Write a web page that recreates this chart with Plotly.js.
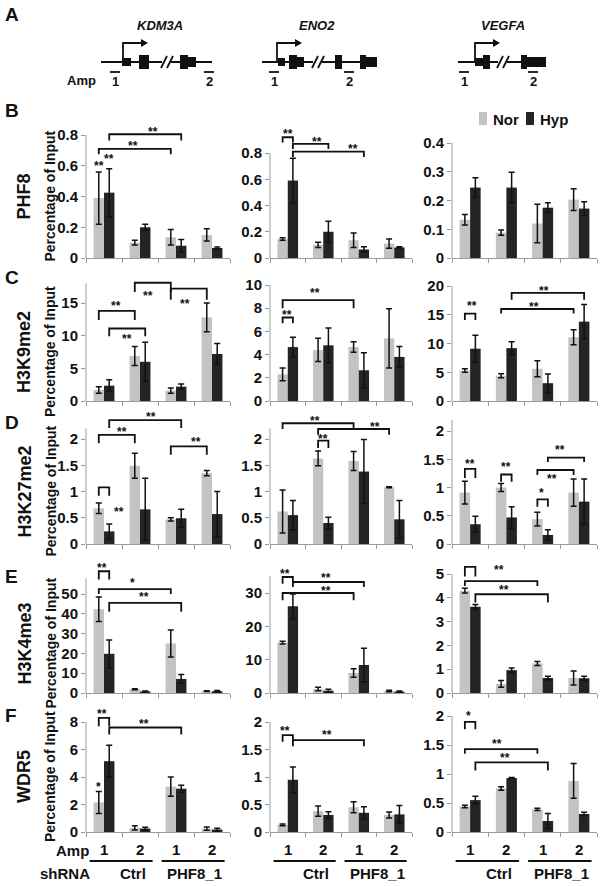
<!DOCTYPE html>
<html>
<head>
<meta charset="utf-8">
<script src="https://cdn.plot.ly/plotly-3.0.1.min.js"></script>
<style>
  body { margin: 0; background: #fff; }
  #chart { width: 604px; height: 886px; }
</style>
</head>
<body>
<div id="chart"></div>
<script>
// ---- data ----
const genes = ['KDM3A', 'ENO2', 'VEGFA'];
const marks = ['PHF8', 'H3K9me2', 'H3K27me2', 'H3K4me3', 'WDR5'];
const panels = ['B', 'C', 'D', 'E', 'F'];
const series = ['Nor', 'Hyp'];
const ampLabels = ['1', '2', '1', '2'];
const shrnaLabels = ['Ctrl', 'PHF8_1'];

// one array per mark: [KDM3A, ENO2, VEGFA] x 4 groups (Ctrl amp1, Ctrl amp2, PHF8_1 amp1, PHF8_1 amp2)
const phf8Nor = [[0.39, 0.10, 0.135, 0.15], [0.145, 0.10, 0.135, 0.11], [0.133, 0.088, 0.12, 0.203]];
const phf8NorErr = [[0.17, 0.015, 0.05, 0.04], [0.01, 0.02, 0.055, 0.035], [0.018, 0.009, 0.067, 0.038]];
const phf8Hyp = [[0.425, 0.20, 0.08, 0.065], [0.59, 0.20, 0.065, 0.08], [0.245, 0.245, 0.175, 0.172]];
const phf8HypErr = [[0.155, 0.02, 0.04, 0.006], [0.17, 0.08, 0.02, 0.006], [0.034, 0.053, 0.017, 0.024]];

const k9Nor = [[1.7, 6.9, 1.6, 12.8], [2.3, 4.4, 4.65, 5.4], [5.3, 4.4, 5.6, 11.1]];
const k9NorErr = [[0.5, 1.45, 0.4, 2.2], [0.55, 1.0, 0.45, 2.55], [0.3, 0.35, 1.4, 1.3]];
const k9Hyp = [[2.35, 6.0, 2.2, 7.2], [4.65, 4.8, 2.65, 3.8], [9.1, 9.2, 3.1, 13.8]];
const k9HypErr = [[0.9, 3.0, 0.4, 1.6], [0.85, 1.5, 1.5, 0.9], [2.35, 1.1, 1.6, 3.0]];

const k27Nor = [[0.68, 1.49, 0.47, 1.35], [0.62, 1.63, 1.58, 1.08], [0.91, 1.0, 0.44, 0.91]];
const k27NorErr = [[0.1, 0.24, 0.03, 0.05], [0.41, 0.14, 0.18, 0.01], [0.2, 0.07, 0.12, 0.24]];
const k27Hyp = [[0.24, 0.66, 0.49, 0.57], [0.55, 0.40, 1.38, 0.47], [0.35, 0.47, 0.16, 0.75]];
const k27HypErr = [[0.14, 0.59, 0.17, 0.43], [0.28, 0.11, 0.61, 0.36], [0.14, 0.19, 0.09, 0.4]];

const k4Nor = [[42.3, 1.9, 25, 0.9], [15.1, 1.2, 6.0, 0.6], [4.3, 0.38, 1.24, 0.63]];
const k4NorErr = [[6.2, 0.3, 6.8, 0.2], [0.4, 0.5, 1.3, 0.2], [0.1, 0.14, 0.08, 0.29]];
const k4Hyp = [[19.8, 0.8, 7.1, 0.9], [26, 0.7, 8.4, 0.4], [3.62, 0.96, 0.63, 0.62]];
const k4HypErr = [[7, 0.2, 2.2, 0.3], [3.7, 0.4, 5.0, 0.2], [0.1, 0.09, 0.07, 0.08]];

const wdr5Nor = [[2.15, 0.3, 3.3, 0.25], [0.13, 0.38, 0.45, 0.31], [0.44, 0.75, 0.39, 0.88]];
const wdr5NorErr = [[0.8, 0.15, 0.7, 0.12], [0.015, 0.095, 0.1, 0.055], [0.02, 0.03, 0.02, 0.3]];
const wdr5Hyp = [[5.15, 0.25, 3.15, 0.18], [0.95, 0.31, 0.35, 0.32], [0.55, 0.93, 0.19, 0.31]];
const wdr5HypErr = [[1.15, 0.1, 0.25, 0.1], [0.23, 0.06, 0.11, 0.16], [0.065, 0.01, 0.13, 0.03]];

// y tick values per row / gene
const yTicksB = [[0, 0.2, 0.4, 0.6, 0.8], [0, 0.2, 0.4, 0.6, 0.8], [0, 0.1, 0.2, 0.3, 0.4]];
const yTicksC = [[0, 5, 10, 15], [0, 2, 4, 6, 8, 10], [0, 5, 10, 15, 20]];
const yTicksD = [[0, 0.5, 1, 1.5, 2], [0, 0.5, 1, 1.5, 2], [0, 0.5, 1, 1.5, 2]];
const yTicksE = [[0, 10, 20, 30, 40, 50], [0, 10, 20, 30], [0, 1, 2, 3, 4, 5]];
const yTicksF = [[0, 2, 4, 6, 8], [0, 0.5, 1, 1.5, 2], [0, 0.5, 1, 1.5, 2]];
// where the y axis line stops
const yLineTop = [[0.8, 0.8, 0.4], [18, 10, 20], [2.2, 2.2, 2.2], [58, 35, 5], [8, 2, 2]];

// significance brackets: [from bar, to bar, level, tick end]  (n = Nor, h = Hyp, digit = group)
const bracketsB = [[['n0', 'n2', 0.71, 0.675], ['h0', 'h2', 0.805, 0.765]],
  [['n0', 'h0', 0.92, 0.88], ['h0', 'h1', 0.87, 0.83], ['h0', 'h2', 0.81, 0.77]], []];
const bracketsC = [[['n0', 'n1', 13.8, 12.4], ['h0', 'h1', 11.1, 9.9], ['n1', 'n2', 18.1, 16.7], ['n2', 'n3', 17.2, 15.5]],
  [['n0', 'n2', 8.7, 8.0], ['n0', 'h0', 7.2, 6.7]],
  [['n0', 'h0', 15.2, 14.1], ['n1', 'n3', 16.0, 15.2], ['h1', 'h3', 18.8, 17.6]]];
const bracketsD = [[['n0', 'n1', 2.08, 1.92], ['h0', 'h2', 2.36, 2.21], ['n2', 'n3', 1.86, 1.70], ['n0', 'h0', 1.08, 0.92]],
  [['n0', 'n2', 2.3, 2.19], ['n1', 'n3', 2.19, 2.08], ['n1', 'h1', 1.97, 1.83]],
  [['n0', 'h0', 1.33, 1.17], ['n1', 'h1', 1.23, 1.1], ['n2', 'h2', 0.79, 0.66], ['n2', 'n3', 1.31, 1.22], ['h2', 'h3', 1.53, 1.45]]];
const bracketsE = [[['n0', 'h0', 61.5, 57.3], ['n0', 'n2', 52.5, 50.0], ['h0', 'h2', 45.5, 41]],
  [['n0', 'h0', 34.8, 32.8], ['h0', 'h2', 33.3, 31.8], ['n0', 'n2', 30, 27.8]],
  [['n0', 'h0', 5.3, 4.9], ['n0', 'n2', 4.7, 4.5], ['h0', 'h2', 4.15, 3.8]]];
const bracketsF = [[['n0', 'h0', 8.3, 7.7], ['h0', 'h2', 7.6, 7.1]],
  [['n0', 'h0', 1.76, 1.64], ['h0', 'h2', 1.67, 1.56]],
  [['n0', 'h0', 1.9, 1.77], ['n0', 'n2', 1.43, 1.35], ['h0', 'h2', 1.2, 1.06]]];

// asterisks: [text, x (bar id or group position), y]
const starsB = [[['**', 'n0', 0.615], ['**', 'h0', 0.665], ['**', 0.8, 0.745], ['**', 1.36, 0.84]],
  [['**', 0, 0.965], ['**', 0.82, 0.91], ['**', 1.84, 0.85]], []];
const starsC = [[['**', 0.33, 15.0], ['**', 0.64, 9.9], ['**', 1.22, 16.6], ['**', 2.25, 15.3]],
  [['**', 0.77, 9.6], ['**', -0.02, 7.7]],
  [['**', 0.05, 17.0], ['**', 1.77, 16.9], ['**', 2.05, 19.7]]];
const starsD = [[['**', 0.5, 2.2], ['**', 1.3, 2.48], ['**', 2.55, 2.0], ['**', 0.42, 0.66]],
  [['**', 0.78, 2.4], ['**', 2.47, 2.29], ['**', 1.0, 2.05]],
  [['**', 0, 1.47], ['**', 0.98, 1.41], ['*', 1.97, 0.95], ['**', 2.26, 1.2], ['**', 2.48, 1.72]]];
const starsE = [[['**', -0.05, 64.5], ['*', 0.79, 57], ['**', 1.11, 50]],
  [['**', -0.07, 36.6], ['**', 1.07, 35.3], ['**', 1.07, 31.5]],
  [['**', -0.09, 5.6], ['**', 0.8, 5.3], ['**', 0.93, 4.44]]];
const starsF = [[['**', -0.05, 8.8], ['**', 1.1, 8.1], ['*', 'n0', 3.5]],
  [['**', -0.09, 1.9], ['**', 1.1, 1.82]],
  [['*', -0.05, 2.05], ['**', 0.75, 1.57], ['**', 0.95, 1.33]]];

// gene schematics (pixel positions on the page)
const geneLine = [[101, 212], [262, 377], [458, 546]];
const geneTss = [123, 277, 475];
const geneExons = [
  [[122, 131, 4], [139, 149, 7], [180, 188, 7], [188, 196, 5]],
  [[278, 285, 4], [289, 297, 7], [297, 304, 5], [335, 342, 7], [360, 366, 7], [366, 377, 5]],
  [[475, 483, 4], [483, 490, 7], [521, 527, 7], [527, 546, 5]]];
const geneCut = [162, 313, 498];
const ampPos = [[115, 209], [274, 349], [464, 533]];
const geneLabelX = [160, 317, 503];

// ---- layout helpers ----
const W = 604, H = 886;
const FONT = '"Liberation Sans", Arial, Helvetica, sans-serif';
const NOR_C = '#c3c3c3', HYP_C = '#242424', AXIS_C = '#9a9a9a', INK = '#111';
const px = x => x / W;
const py = y => 1 - y / H;
const b = s => '<b>' + s + '</b>';

const colX = [[86, 230], [270, 412], [452, 597]];
const rowZero = [258, 401, 544, 693, 832];
const rowCeil = [100, 265, 410, 560, 700];
const tickPx = [[135, 153, 143], [303, 285, 286], [439, 439, 431], [594, 593, 574], [722, 722, 716]];
const letterY = [110, 277, 422, 576, 715];

const norRows = [phf8Nor, k9Nor, k27Nor, k4Nor, wdr5Nor];
const norErrRows = [phf8NorErr, k9NorErr, k27NorErr, k4NorErr, wdr5NorErr];
const hypRows = [phf8Hyp, k9Hyp, k27Hyp, k4Hyp, wdr5Hyp];
const hypErrRows = [phf8HypErr, k9HypErr, k27HypErr, k4HypErr, wdr5HypErr];
const tickRows = [yTicksB, yTicksC, yTicksD, yTicksE, yTicksF];
const bracketRows = [bracketsB, bracketsC, bracketsD, bracketsE, bracketsF];
const starRows = [starsB, starsC, starsD, starsE, starsF];

const BW = 0.29;
const groups = [0, 1, 2, 3];
function barX(id) {
  const g = Number(id.slice(1));
  return id[0] === 'n' ? g - BW / 2 : g + BW / 2;
}

const data = [];
const shapes = [];
const annotations = [];
const layout = {
  width: W, height: H,
  margin: { l: 0, r: 0, t: 0, b: 0 },
  paper_bgcolor: '#fff',
  plot_bgcolor: 'rgba(0,0,0,0)',
  showlegend: false,
  font: { family: FONT, color: INK }
};

function text(t, x, y, size, extra) {
  annotations.push(Object.assign({
    text: b(t), x: px(x), y: py(y), xref: 'paper', yref: 'paper',
    xanchor: 'center', yanchor: 'middle',
    showarrow: false, font: { size: size, color: INK }
  }, extra || {}));
}

for (let r = 0; r < 5; r++) {
  for (let c = 0; c < 3; c++) {
    const k = r * 3 + c + 1;
    const sfx = k === 1 ? '' : String(k);
    const xr = 'x' + sfx, yr = 'y' + sfx;
    const ticks = tickRows[r][c];
    const topVal = ticks[ticks.length - 1];
    const zero = rowZero[r], tp = tickPx[r][c], ceil = rowCeil[r];
    const rmax = topVal * (zero - ceil) / (zero - tp);

    layout['xaxis' + sfx] = {
      domain: [px(colX[c][0]), px(colX[c][1])], anchor: yr,
      range: [-0.5, 3.5], fixedrange: true,
      showgrid: false, zeroline: false,
      showline: true, linecolor: AXIS_C, linewidth: 1,
      tickmode: 'array', tickvals: [-0.5, 0.5, 1.5, 2.5, 3.5],
      ticks: 'outside', ticklen: 4, tickcolor: AXIS_C, showticklabels: false
    };
    layout['yaxis' + sfx] = {
      domain: [py(zero), py(ceil)], anchor: xr,
      range: [0, rmax], fixedrange: true,
      showgrid: false, zeroline: false, showline: false,
      tickmode: 'array', tickvals: ticks, ticktext: ticks.map(v => b(String(v))),
      ticks: 'outside', ticklen: 4, tickcolor: AXIS_C,
      tickfont: { size: 15, color: INK }
    };
    // y axis line up to the last tick
    shapes.push({ type: 'line', xref: xr + ' domain', yref: yr, x0: 0, x1: 0, y0: 0, y1: yLineTop[r][c],
      line: { color: AXIS_C, width: 1 } });

    data.push({
      type: 'bar', name: series[0], x: groups, y: norRows[r][c], xaxis: xr, yaxis: yr,
      width: BW, offset: -BW, marker: { color: NOR_C, line: { width: 0 } },
      error_y: { type: 'data', array: norErrRows[r][c], color: INK, thickness: 1.5, width: 3 },
      hoverinfo: 'skip'
    });
    data.push({
      type: 'bar', name: series[1], x: groups, y: hypRows[r][c], xaxis: xr, yaxis: yr,
      width: BW, offset: 0, marker: { color: HYP_C, line: { width: 0 } },
      error_y: { type: 'data', array: hypErrRows[r][c], color: INK, thickness: 1.5, width: 3 },
      hoverinfo: 'skip'
    });

    bracketRows[r][c].forEach(([a, bb, lvl, end]) => {
      const xa = barX(a), xb = barX(bb);
      shapes.push({ type: 'path', xref: xr, yref: yr,
        path: `M ${xa},${end} L ${xa},${lvl} L ${xb},${lvl} L ${xb},${end}`,
        line: { color: INK, width: 1.8 } });
    });
    starRows[r][c].forEach(([t, xv, yv]) => {
      annotations.push({ text: b(t), xref: xr, yref: yr, x: typeof xv === 'string' ? barX(xv) : xv, y: yv,
        xanchor: 'center', yanchor: 'middle',
        showarrow: false, yshift: -3, font: { size: 12, color: INK } });
    });

    // bottom row: amplicon numbers and shRNA groups
    if (r === 4) {
      groups.forEach(g => {
        annotations.push({ text: b(ampLabels[g]), xref: xr, yref: 'paper', x: g, y: py(849),
          xanchor: 'center', yanchor: 'middle',
          showarrow: false, font: { size: 15, color: INK } });
      });
      [[-0.4, 1.35, 0.8], [1.6, 3.35, 2.52]].forEach(([x0, x1, xm], i) => {
        shapes.push({ type: 'line', xref: xr, yref: 'paper', x0: x0, x1: x1, y0: py(861), y1: py(861),
          line: { color: INK, width: 1.8 } });
        annotations.push({ text: b(shrnaLabels[i]), xref: xr, yref: 'paper', x: xm, y: py(873),
          xanchor: 'center', yanchor: 'middle',
          showarrow: false, font: { size: 15, color: INK } });
      });
    }
  }
  // row titles
  const mid = (rowZero[r] + tickPx[r][0]) / 2;
  text(marks[r], 24, mid, 18, { textangle: -90 });
  text('Percentage of Input', 50, mid, 14, { textangle: -90 });
  text(panels[r], 3, letterY[r], 19, { xanchor: 'left' });
}
text('Amp', 72, 850, 15);
text('shRNA', 65, 873, 15);

// legend (drawn by hand so that it sits as in the figure)
[[479, NOR_C], [526, HYP_C]].forEach(([x0, col], i) => {
  shapes.push({ type: 'rect', xref: 'paper', yref: 'paper', x0: px(x0), x1: px(x0 + 8), y0: py(125), y1: py(112),
    fillcolor: col, line: { width: 0 } });
  text(series[i], x0 + 12, 119, 15, { xanchor: 'left' });
});

// panel A: gene schematics
text('A', 3, 15, 19, { xanchor: 'left' });
text('Amp', 81, 81, 13);
const LY = 62;
genes.forEach((g, i) => {
  text('<i>' + g + '</i>', geneLabelX[i], 25, 13);
  shapes.push({ type: 'line', xref: 'paper', yref: 'paper', x0: px(geneLine[i][0]), x1: px(geneLine[i][1]),
    y0: py(LY), y1: py(LY), line: { color: INK, width: 1.8 } });
  geneExons[i].forEach(([a, e, h]) => {
    shapes.push({ type: 'rect', xref: 'paper', yref: 'paper', x0: px(a), x1: px(e), y0: py(LY + h), y1: py(LY - h),
      fillcolor: INK, line: { width: 0 } });
  });
  const cx = geneCut[i];
  shapes.push({ type: 'rect', xref: 'paper', yref: 'paper', x0: px(cx), x1: px(cx + 9), y0: py(LY + 2), y1: py(LY - 2),
    fillcolor: '#fff', line: { width: 0 } });
  [cx - 1, cx + 5].forEach(sx => {
    shapes.push({ type: 'line', xref: 'paper', yref: 'paper', x0: px(sx), x1: px(sx + 6), y0: py(LY + 6), y1: py(LY - 6),
      line: { color: INK, width: 1.8 } });
  });
  const t = geneTss[i];
  shapes.push({ type: 'path', xref: 'paper', yref: 'paper',
    path: `M ${px(t)},${py(LY)} L ${px(t)},${py(43)} L ${px(t + 19)},${py(43)}`,
    line: { color: INK, width: 1.8 } });
  shapes.push({ type: 'path', xref: 'paper', yref: 'paper',
    path: `M ${px(t + 18)},${py(39)} L ${px(t + 25)},${py(43)} L ${px(t + 18)},${py(47)} Z`,
    fillcolor: INK, line: { width: 0 } });
  ampPos[i].forEach((ax, j) => {
    shapes.push({ type: 'line', xref: 'paper', yref: 'paper', x0: px(ax - 5), x1: px(ax + 5), y0: py(72), y1: py(72),
      line: { color: INK, width: 1.8 } });
    text(String(j + 1), ax, 82, 13);
  });
});

layout.shapes = shapes;
layout.annotations = annotations;

Plotly.newPlot('chart', data, layout, { displayModeBar: false, staticPlot: true });
</script>
</body>
</html>
